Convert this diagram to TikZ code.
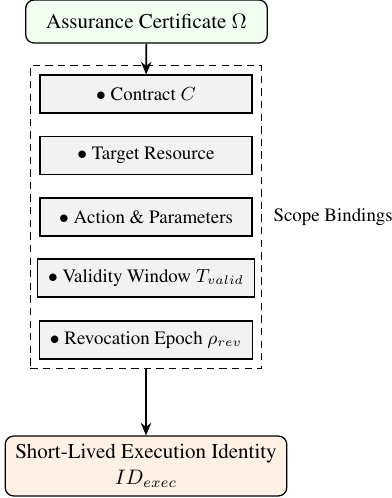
\documentclass[tikz,border=0pt]{standalone}
\usepackage[T1]{fontenc}
\usepackage{times}
\usetikzlibrary{arrows.meta,positioning,fit}
\begin{document}
\begin{tikzpicture}[x=0.476pt,y=-0.476pt]%
\useasboundingbox (0,0) rectangle (391,498);
\begin{scope}%
\tikzstyle{every node}=[draw,semithick,rounded corners=4pt,align=center] %%
\node[fill=green!6,minimum width=115pt,minimum height=20.5pt] (cert) at (146.5,21.5) {Assurance Certificate $\Omega$}; %%
\node[fill=orange!10,minimum width=134pt,minimum height=28.5pt] (exec) at (146,466) {Short-Lived Execution Identity\\$ID_{exec}$}; %%
\end{scope}
\begin{scope}%
\tikzstyle{every node}=[draw,semithick,fill=gray!10,font=\small,minimum width=101pt,minimum height=18pt,inner xsep=5pt] %%
\node (contract) at (146,94) {$\bullet$ Contract $C$}; %%
\node (target) at (146,155.5) {$\bullet$ Target Resource}; %%
\node (action) at (146,217) {$\bullet$ Action \& Parameters}; %%
\node (validity) at (146,278) {$\bullet$ Validity Window $T_{valid}$}; %%
\node (revoke) at (146,340) {$\bullet$ Revocation Epoch $\rho_{rev}$}; %%
\end{scope}
\node[draw,semithick,dash pattern=on 3.5pt off 2.5pt,fit=(contract)(validity)(revoke),inner xsep=3.2pt,inner ysep=4.3pt] (bind) {};%
\node[right=1.8pt of bind,font=\small] (bindlbl) {Scope Bindings};%
\draw[-{Stealth[length=6pt,width=5pt]},thick] (cert)--(contract);
\draw[-{Stealth[length=6pt,width=5pt]},thick] (bind)--(exec);
\end{tikzpicture}
\end{document}
